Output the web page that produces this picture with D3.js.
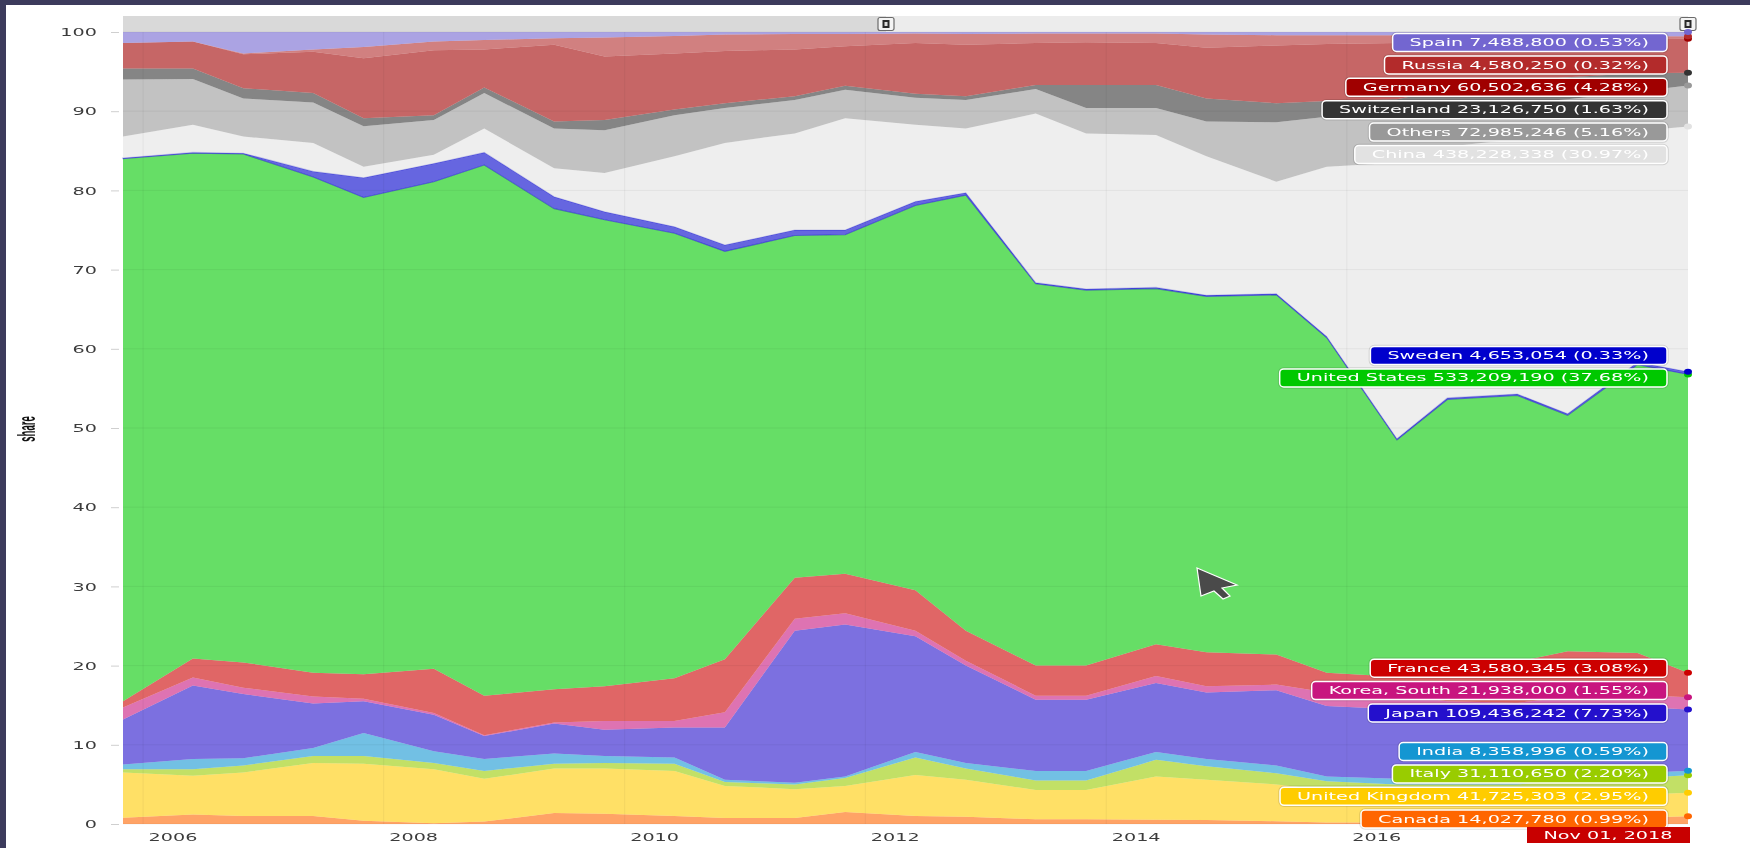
<!DOCTYPE html>
<html><head><meta charset="utf-8">
<script src="https://cdn.jsdelivr.net/npm/d3@7"></script>
<style>
html,body{margin:0;padding:0;background:#fff;overflow:hidden;}
svg{display:block;filter:blur(0.5px);}
</style></head><body>
<svg id="chart" width="1750" height="848"></svg>
<script>
// ---------- DATA (TOP500-style performance share by country, %) ----------
const dates = ["2005-11-01","2006-06-01","2006-11-01","2007-06-01","2007-11-01","2008-06-01","2008-11-01","2009-06-01","2009-11-01","2010-06-01","2010-11-01","2011-06-01","2011-11-01","2012-06-01","2012-11-01","2013-06-01","2013-11-01","2014-06-01","2014-11-01","2015-06-01","2015-11-01","2016-06-01","2016-11-01","2017-06-01","2017-11-01","2018-06-01","2018-11-01"];

const canada      = [0.8,1.2,1.0,1.0,0.4,0.1,0.3,1.4,1.3,1.0,0.76,0.76,1.5,1.0,0.9,0.6,0.6,0.55,0.5,0.35,0.2,0.2,0.2,0.3,0.6,0.8,0.99];
const unitedKingdom = [5.7,4.9,5.5,6.7,7.2,6.8,5.4,5.6,5.7,5.7,4.04,3.64,3.3,5.2,4.7,3.7,3.7,5.45,5.1,4.65,4.1,3.8,3.8,3.2,3.0,2.9,2.95];
const italy       = [0.4,0.8,0.9,0.9,1.0,0.8,1.0,0.6,0.7,0.9,0.5,0.6,1.0,2.2,1.4,1.2,1.2,2.1,1.7,1.4,1.1,1.0,1.0,1.5,2.0,2.1,2.20];
const india       = [0.6,1.3,0.9,1.0,2.9,1.5,1.5,1.3,0.9,0.8,0.3,0.2,0.2,0.7,0.7,1.2,1.2,1.0,0.9,1.0,0.6,0.7,0.7,0.6,0.6,0.6,0.59];
const japan       = [5.7,9.3,8.1,5.6,4.0,4.6,2.9,3.8,3.3,3.8,6.6,19.2,19.2,14.6,12.3,9.0,9.0,8.7,8.4,9.5,8.9,8.8,8.3,8.4,8.3,8.4,7.73];
const koreaSouth  = [1.5,1.0,0.8,0.9,0.3,0.2,0.1,0.1,1.1,0.8,1.9,1.5,1.4,0.7,0.6,0.5,0.5,0.9,0.8,0.7,1.7,1.8,1.5,1.3,1.5,1.5,1.55];
const france      = [0.8,2.4,3.2,3.0,3.1,5.6,5.0,4.2,4.4,5.4,6.7,5.2,5.0,5.1,3.8,3.8,3.8,4.0,4.3,3.8,2.5,2.3,4.0,5.2,5.8,5.3,3.08];
const unitedStates= [68.5,63.8,64.2,62.6,60.2,61.5,67.0,60.7,58.9,56.2,51.5,43.2,42.8,48.6,55.0,48.2,47.4,44.9,44.9,45.4,42.3,29.9,34.1,33.6,29.8,36.4,37.68];
const sweden      = [0.1,0.1,0.1,0.7,2.5,2.3,1.6,1.5,1.0,0.8,0.8,0.7,0.6,0.5,0.3,0.15,0.15,0.15,0.15,0.15,0.15,0.15,0.2,0.2,0.2,0.3,0.33];
const china       = [2.7,3.5,2.1,3.6,1.4,1.1,3.0,3.6,4.9,8.9,12.9,12.2,14.1,9.7,8.1,21.35,19.65,19.25,17.55,14.15,21.45,34.85,31.7,32.2,35.2,29.2,30.97];
const others      = [7.2,5.75,4.8,5.1,5.1,4.4,4.5,5.0,5.4,5.2,4.4,4.2,3.6,3.4,3.6,3.1,3.2,3.4,4.4,7.5,6.3,6.0,5.0,4.5,4.5,5.0,5.16];
const switzerland = [1.4,1.35,1.3,1.2,1.0,0.6,0.7,0.9,1.3,0.7,0.6,0.5,0.5,0.5,0.5,0.5,2.9,2.9,2.9,2.4,2.0,2.0,2.3,2.8,2.8,2.3,1.63];
const germany     = [3.2,3.4,4.3,5.2,7.6,8.2,4.8,9.7,8.0,7.1,6.6,5.9,5.0,6.4,6.5,5.3,5.4,5.3,6.4,7.3,7.2,7.1,6.0,5.2,4.7,4.3,4.28];
const russia      = [0.0,0.0,0.1,0.3,1.4,1.1,1.2,0.8,2.4,2.2,2.1,1.95,1.55,1.2,1.35,1.2,1.1,1.2,1.7,1.3,1.1,1.0,0.8,0.5,0.5,0.35,0.32];
const spain       = [1.4,1.2,2.7,2.2,1.9,1.2,1.0,0.8,0.7,0.5,0.3,0.25,0.25,0.2,0.25,0.2,0.2,0.2,0.3,0.4,0.4,0.4,0.4,0.5,0.5,0.55,0.53];

// stacking order, bottom -> top
const seriesNames  = ["Canada","United Kingdom","Italy","India","Japan","Korea, South","France","United States","Sweden","China","Others","Switzerland","Germany","Russia","Spain"];
const seriesValues = [canada,unitedKingdom,italy,india,japan,koreaSouth,france,unitedStates,sweden,china,others,switzerland,germany,russia,spain];
const seriesColors = ["#ff6600","#ffcc00","#99cc00","#1496d2","#2410cc","#c8157f","#cc0000","#00c800","#0000cc","#e2e2e2","#999999","#333333","#a00000","#b32b2b","#7366d0"];
// absolute values at the cursor date (Nov 01, 2018)
const latestTotals = [14027780,41725303,31110650,8358996,109436242,21938000,43580345,533209190,4653054,438228338,72985246,23126750,60502636,4580250,7488800];

const yTicks = [0,10,20,30,40,50,60,70,80,90,100];
const xTickYears = [2006,2008,2010,2012,2014,2016];
const yAxisTitle = "share";
const cursorIndex = 26;

// ---------- LAYOUT ----------
const W = 1750, H = 848;
const plotL = 123, plotR = 1688, plotT = 32, plotB = 824;
const SX = 1.92;          // horizontal stretch of the reference screenshot's text
const FONT = "DejaVu Sans";

const svg = d3.select("#chart");
const parse = d3.utcParse("%Y-%m-%d");
const rows = dates.map((d,i) => {
  const r = {date: parse(d)};
  seriesNames.forEach((k,j) => r[k] = seriesValues[j][i]);
  return r;
});

const x = d3.scaleUtc().domain([parse(dates[0]), parse(dates[dates.length-1])]).range([plotL, plotR]);
const y = d3.scaleLinear().domain([0,100]).range([plotB, plotT]);

const stacked = d3.stack().keys(seriesNames)(rows);

svg.append("rect").attr("x",0).attr("y",0).attr("width",W).attr("height",H).attr("fill","#fff");

// scrollbar band
svg.append("rect").attr("x",plotL).attr("y",16).attr("width",886-plotL).attr("height",16).attr("fill","#d9d9d9");
svg.append("rect").attr("x",886).attr("y",16).attr("width",plotR-886).attr("height",16).attr("fill","#ececec");

// areas
const area = d3.area()
  .x(d => x(d.data.date))
  .y0(d => y(d[0]))
  .y1(d => y(d[1]));

svg.append("g").selectAll("path").data(stacked).join("path")
  .attr("d", area)
  .attr("fill", (d,i) => seriesColors[i])
  .attr("fill-opacity", 0.6)
  .attr("stroke", (d,i) => seriesNames[i] === "Sweden" ? seriesColors[i] : "none")
  .attr("stroke-opacity", 0.4)
  .attr("stroke-width", 1.1);

// gridlines
const grid = svg.append("g").attr("stroke","#000").attr("stroke-opacity",0.05);
yTicks.forEach(t => grid.append("line").attr("x1",plotL).attr("x2",plotR).attr("y1",y(t)).attr("y2",y(t)));
xTickYears.forEach(yr => {
  const xx = x(new Date(Date.UTC(yr,0,1)));
  grid.append("line").attr("x1",xx).attr("x2",xx).attr("y1",plotT).attr("y2",plotB);
});

// y axis
const yAxis = d3.axisLeft(y).tickValues(yTicks).tickSize(8).tickFormat(d3.format("d"));
const gy = svg.append("g").attr("transform","translate(119,0)").call(yAxis);
gy.select(".domain").remove();
gy.selectAll(".tick line").attr("stroke","#cfcfcf");
gy.selectAll(".tick text")
  .attr("x",0).attr("dy",null)
  .attr("transform",`translate(-22,3.6) scale(${SX},1)`)
  .attr("text-anchor","end")
  .attr("font-family",FONT).attr("font-size",10).attr("fill","#3c3c3c");

// x axis
const xAxis = d3.axisBottom(x)
  .tickValues(xTickYears.map(yr => new Date(Date.UTC(yr,0,1))))
  .tickSize(0).tickFormat(d3.utcFormat("%Y"));
const gx = svg.append("g").attr("transform",`translate(0,${plotB})`).call(xAxis);
gx.select(".domain").remove();
gx.selectAll(".tick text")
  .attr("x",0).attr("y",0).attr("dy",null)
  .attr("transform",`translate(5,16.5) scale(${SX},1)`)
  .attr("text-anchor","start")
  .attr("font-family",FONT).attr("font-size",10).attr("fill","#3c3c3c");

// y axis title
svg.append("text")
  .attr("transform",`translate(35,429) scale(2.5,1) rotate(-90)`)
  .attr("text-anchor","middle")
  .attr("font-family","Liberation Sans").attr("font-weight","bold").attr("font-size",9.5).attr("fill","#111")
  .text(yAxisTitle);

// scrollbar grips
function grip(cx){
  const g = svg.append("g").attr("transform",`translate(${cx},24)`);
  g.append("rect").attr("x",-8).attr("y",-6.5).attr("width",16).attr("height",13).attr("rx",2)
    .attr("fill","#f4f4f4").attr("stroke","#6a6a6a").attr("stroke-width",1.2);
  g.append("rect").attr("x",-3.5).attr("y",-4).attr("width",7).attr("height",8).attr("fill","#2a2a2a");
  g.append("rect").attr("x",-1.5).attr("y",-2).attr("width",3).attr("height",4).attr("fill","#ddd");
}
grip(886); grip(plotR);

// mouse pointer seen in the screenshot
svg.append("path")
  .attr("d","M1197,568 L1237,585 L1222,588 L1230,596 L1223,599 L1214,591 L1201,596 Z")
  .attr("fill","#4a4a4a").attr("stroke","#fff").attr("stroke-width",1.2);

// ---------- CURSOR BALLOONS ----------
const grand = d3.sum(latestTotals);
const fmt = d3.format(",");
const items = seriesNames.map((k,i) => ({
  name:k, color:seriesColors[i],
  top: stacked[i][cursorIndex][1],
  text: `${k} ${fmt(latestTotals[i])} (${(latestTotals[i]/grand*100).toFixed(2)}%)`
}));
const gap = 22.4, topBound = 42.5, botBound = 819;
items.forEach(it => it.ty = y(it.top) + 3.5);
for (let i=0;i<items.length;i++){
  items[i].py = i===0 ? Math.min(items[i].ty, botBound) : Math.min(items[i].ty, items[i-1].py - gap);
}
items[items.length-1].py = Math.max(items[items.length-1].py, topBound);
for (let i=items.length-2;i>=0;i--){
  items[i].py = Math.max(items[i].py, items[i+1].py + gap);
}

// bullets
svg.append("g").selectAll("ellipse").data(items).join("ellipse")
  .attr("cx",plotR).attr("cy",d => y(d.top))
  .attr("rx",4).attr("ry",3).attr("fill",d => d.color);

const boxR = 1667, padL = 17, padR = 18, bh = 18;
const bg = svg.append("g");
items.forEach(it => {
  const g = bg.append("g");
  const t = g.append("text")
    .attr("font-family",FONT).attr("font-size",10).attr("fill","#fff")
    .attr("text-anchor","end")
    .attr("transform",`translate(${boxR-padR},${it.py+3.6}) scale(${SX},1)`)
    .text(it.text);
  const tw = t.node().getComputedTextLength()*SX;
  const bx = boxR - padR - tw - padL;
  g.insert("rect","text").attr("x",bx).attr("y",it.py-bh/2).attr("width",boxR-bx).attr("height",bh).attr("rx",4)
    .attr("fill","none").attr("stroke","#000").attr("stroke-opacity",0.12).attr("stroke-width",3.5);
  g.insert("rect","text").attr("x",bx).attr("y",it.py-bh/2).attr("width",boxR-bx).attr("height",bh).attr("rx",4)
    .attr("fill",it.color).attr("stroke","#fff").attr("stroke-width",1.5);
});

// date balloon
const dg = svg.append("g");
dg.append("rect").attr("x",1527).attr("y",827).attr("width",plotR+2-1527).attr("height",16).attr("fill","#c80000");
dg.append("text")
  .attr("transform",`translate(1608,838.5) scale(${SX},1)`)
  .attr("text-anchor","middle").attr("font-family",FONT).attr("font-size",10).attr("fill","#fff")
  .text(d3.utcFormat("%b %d, %Y")(parse(dates[cursorIndex])));

// screenshot frame (top and left dark border)
svg.append("rect").attr("x",0).attr("y",0).attr("width",W).attr("height",5).attr("fill","#3c3b5c");
svg.append("rect").attr("x",0).attr("y",0).attr("width",6).attr("height",H).attr("fill","#3c3b5c");
</script>
</body></html>
